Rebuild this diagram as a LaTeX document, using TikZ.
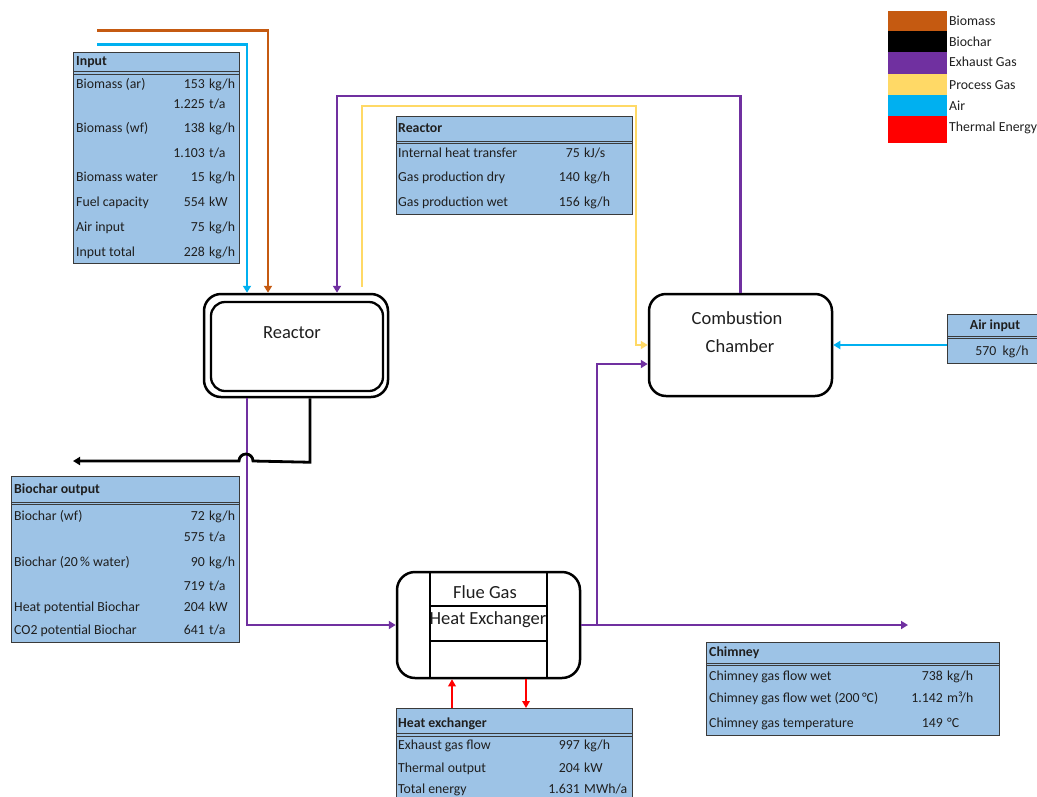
\documentclass[tikz,border=0pt]{standalone}
\usepackage{fontspec}
\setmainfont{Carlito}
\usetikzlibrary{arrows.meta}
\definecolor{biomass}{HTML}{C55A11}
\definecolor{exhaust}{HTML}{7030A0}
\definecolor{procgas}{HTML}{FFD966}
\definecolor{air}{HTML}{00B0F0}
\definecolor{thermal}{HTML}{FF0000}
\definecolor{tabfill}{HTML}{9DC3E6}
\definecolor{tabline}{HTML}{3A3A3A}
\definecolor{txt}{HTML}{1F1F1F}
\newcommand\trow[7]{%
  \node[lab,anchor=west] (#1l) at (#2,#4) {#5};
  \node[lab,anchor=east] (#1n) at (#3,#4) {#6};
  \node[lab,anchor=west] (#1u) at (#3+4,#4) {#7};}
\newcommand\vrow[5]{%
  \node[lab,anchor=east] (#1n) at (#2,#3) {#4};
  \node[lab,anchor=west] (#1u) at (#2+4,#3) {#5};}
\begin{document}
\begin{tikzpicture}[x=1pt,y=-1pt,
  tab/.style={draw=tabline, fill=tabfill, line width=1.1pt, inner sep=0pt, anchor=north west},
  lab/.style={inner sep=0pt, text height=9.5pt, text depth=2.5pt, text=txt, font=\fontsize{13.8}{16}\selectfont},
  hdr/.style={lab, anchor=west, font=\fontsize{13.8}{16}\selectfont\bfseries},
  unit/.style={draw=black, line width=2.5pt, fill=white, rounded corners=17pt, inner sep=0pt},
  big/.style={inner sep=0pt, text=txt, font=\fontsize{18.5}{22}\selectfont},
  flow/.style={line width=2.8pt, -{Triangle[length=7pt,width=8pt]}},
  heat/.style={line width=2.2pt, thermal, -{Triangle[length=7pt,width=7.5pt]}},
  sw/.style={inner sep=0pt, minimum width=59pt, anchor=north west},
  leg/.style={inner sep=0pt, anchor=west, text=txt, font=\fontsize{13.8}{16}\selectfont},
  sep/.style={draw=tabline, line width=0.9pt}]
\useasboundingbox (0,0) rectangle (1037,796);

% ---------- units ----------
\node[unit, minimum width=184pt, minimum height=103pt] (reactor) at (296,345.5) {};
\node[unit, line width=2.3pt, rounded corners=14pt, minimum width=172pt, minimum height=89pt] (reactorin) at (297,346.5) {};
\node[big] (reactorlab) at (292,333) {Reactor};

\node[unit, minimum width=183pt, minimum height=102pt] (cc) at (740.5,345) {};
\node[big] (cclab1) at (737,318) {Combustion};
\node[big] (cclab2) at (740,346) {Chamber};

\node[unit, rounded corners=18pt, minimum width=183pt, minimum height=106pt] (hx) at (488.5,625) {};
\draw[line width=2.5pt] (430,572) -- (430,678) (547,572) -- (547,678);
\draw[line width=2.8pt] (430,606) -- (547,606);
\draw[line width=2.5pt] (430,641) -- (547,641);
\node[big] (hxlab1) at (485,592) {Flue Gas};
\node[big] (hxlab2) at (488,620) {Heat Exchanger};

% ---------- connector end points ----------
\coordinate (biosrc) at (97,30.5);
\coordinate (airsrc) at (97,44.5);
\coordinate (exturn) at (337,96);
\coordinate (pgturn) at (636,106);
\coordinate (charout) at (73,461);
\coordinate (branch) at (597,625);
\coordinate (chimout) at (908,625);

% ---------- tables ----------
% Input
\node[tab, minimum width=166pt, minimum height=211pt] (inputtab) at (73,52) {};
\draw[sep] (73,71.5) -- (239,71.5) (73,74) -- (239,74);
\node[hdr] (inputh) at (76,62) {Input};
\trow{in1}{76}{205}{85}{Biomass (ar)}{153}{kg/h}
\vrow{in2}{205}{105}{1.225}{t/a}
\trow{in3}{76}{205}{129}{Biomass (wf)}{138}{kg/h}
\vrow{in4}{205}{154}{1.103}{t/a}
\trow{in5}{76}{205}{178}{Biomass water}{15}{kg/h}
\trow{in6}{76}{205}{203}{Fuel capacity}{554}{kW}
\trow{in7}{76}{205}{228}{Air input}{75}{kg/h}
\trow{in8}{76}{205}{253}{Input total}{228}{kg/h}

% Reactor
\node[tab, minimum width=236pt, minimum height=98pt] (reactab) at (396,116) {};
\draw[sep] (396,141) -- (632,141) (396,143.5) -- (632,143.5);
\node[hdr] (reach) at (398,129) {Reactor};
\trow{re1}{398}{580}{154}{Internal heat transfer}{75}{kJ/s}
\trow{re2}{398}{580}{178}{Gas production dry}{140}{kg/h}
\trow{re3}{398}{580}{203}{Gas production wet}{156}{kg/h}

% Biochar output
\node[tab, minimum width=228pt, minimum height=166pt] (chartab) at (11,476) {};
\draw[sep] (11,502) -- (239,502) (11,504.5) -- (239,504.5);
\node[hdr] (charh) at (14,490) {Biochar output};
\trow{ch1}{14}{205}{517}{Biochar (wf)}{72}{kg/h}
\vrow{ch2}{205}{538}{575}{t/a}
\trow{ch3}{14}{205}{563}{Biochar (20\,\% water)}{90}{kg/h}
\vrow{ch4}{205}{587}{719}{t/a}
\trow{ch5}{14}{205}{608}{Heat potential Biochar}{204}{kW}
\trow{ch6}{14}{205}{631}{CO2 potential Biochar}{641}{t/a}

% Chimney
\node[tab, minimum width=293pt, minimum height=93pt] (chimtab) at (706,642) {};
\draw[sep] (706,663) -- (999,663) (706,665.5) -- (999,665.5);
\node[hdr] (chimh) at (709,653) {Chimney};
\trow{cm1}{709}{943}{677}{Chimney gas flow wet}{738}{kg/h}
\trow{cm2}{709}{943}{699}{Chimney gas flow wet (200\,°C)}{1.142}{m³/h}
\trow{cm3}{709}{943}{724}{Chimney gas temperature}{149}{°C}

% Heat exchanger
\node[tab, minimum width=236pt, minimum height=100pt] (hxtab) at (396,708) {};
\draw[sep] (396,733.5) -- (632,733.5) (396,736) -- (632,736);
\node[hdr] (hxh) at (398,724) {Heat exchanger};
\trow{hx1}{398}{580}{746}{Exhaust gas flow}{997}{kg/h}
\trow{hx2}{398}{580}{769}{Thermal output}{204}{kW}
\trow{hx3}{398}{580}{790}{Total energy}{1.631}{MWh/a}

% Air input
\node[tab, minimum width=95pt, minimum height=49pt] (airtab) at (947,314) {};
\draw[sep] (947,336) -- (1042,336) (947,338.5) -- (1042,338.5);
\node[lab, font=\fontsize{13.8}{16}\selectfont\bfseries] (airh) at (995,326) {Air input};
\node[lab] (airv) at (1002,352) {570~~kg/h};

% ---------- connectors ----------
\draw[flow, biomass] (biosrc) -| ([xshift=-28pt]reactor.north);
\draw[flow, air] (airsrc) -| ([xshift=-49pt]reactor.north);
\draw[flow, exhaust] (cc.north) |- (exturn) -- ([xshift=41pt]reactor.north);
\draw[flow, procgas] ([xshift=66pt,yshift=6pt]reactor.north) |- (pgturn) |- (cc.west);
\draw[flow, exhaust] ([xshift=-49pt]reactor.south) |- (hx.west);
\draw[flow, black] ([xshift=14pt]reactor.south) -- ++(0,64) -- (253,461) arc[start angle=0, end angle=180, radius=7pt] -- (charout);
\draw[flow, exhaust] (hx.east) -- (chimout);
\draw[flow, exhaust] (branch) |- ([yshift=-19pt]cc.west);
\draw[flow, air] (airtab.west |- cc.east) -- (cc.east);
\draw[heat] (hxtab.north -| 452,0) -- (hx.south -| 452,0);
\draw[heat] (hx.south -| 526,0) -- (hxtab.north -| 526,0);

% ---------- legend ----------
\node[sw, fill=biomass, minimum height=20pt] (swbio) at (888,11) {};
\node[sw, fill=black, minimum height=21pt] (swchar) at (888,31) {};
\node[sw, fill=exhaust, minimum height=22pt] (swex) at (888,52) {};
\node[sw, fill=procgas, minimum height=21pt] (swpg) at (888,74) {};
\node[sw, fill=air, minimum height=21pt] (swair) at (888,95) {};
\node[sw, fill=thermal, minimum height=27pt] (swth) at (888,116) {};
\node[leg] (lgbio) at (949,21) {Biomass};
\node[leg] (lgchar) at (949,42) {Biochar};
\node[leg] (lgex) at (949,62) {Exhaust Gas};
\node[leg] (lgpg) at (949,85) {Process Gas};
\node[leg] (lgair) at (949,106) {Air};
\node[leg] (lgth) at (949,128) {Thermal Energy};
\end{tikzpicture}
\end{document}
